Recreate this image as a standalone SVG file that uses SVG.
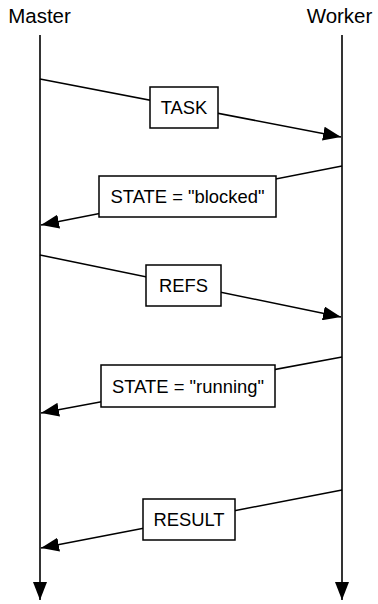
<svg xmlns="http://www.w3.org/2000/svg" width="378" height="604" viewBox="0 0 378 604">
<style>
.life{stroke:#000;stroke-width:1.6;fill:none}
.msg{stroke:#000;stroke-width:1.5;fill:none}
.box{fill:#fff;stroke:#000;stroke-width:1.5}
.hdr{font-family:"Liberation Sans",Arial,sans-serif;font-size:20.5px;fill:#000;text-anchor:middle}
.lbl{font-family:"Liberation Sans",Arial,sans-serif;font-size:18.4px;fill:#000;text-anchor:middle}
</style>
<defs>
<marker id="ah" markerUnits="userSpaceOnUse" markerWidth="19" markerHeight="14" refX="18" refY="7" orient="auto">
<path d="M0,0 L18,7 L0,14 z" fill="#000"/>
</marker>
</defs>
<rect width="378" height="604" fill="#fff"/>
<g id="master">
<text class="hdr" x="39.5" y="23">Master</text>
</g>
<g id="worker">
<text class="hdr" x="339.5" y="23">Worker</text>
</g>
<g id="connectors">
<line class="life" x1="40" y1="35" x2="40" y2="600" marker-end="url(#ah)"/>
<line class="life" x1="342" y1="35" x2="342" y2="600" marker-end="url(#ah)"/>
<line class="msg" x1="40" y1="79" x2="341" y2="137" marker-end="url(#ah)"/>
<line class="msg" x1="342" y1="166" x2="41" y2="225" marker-end="url(#ah)"/>
<line class="msg" x1="40" y1="255" x2="341" y2="317" marker-end="url(#ah)"/>
<line class="msg" x1="342" y1="357" x2="41" y2="413" marker-end="url(#ah)"/>
<line class="msg" x1="342" y1="490" x2="41" y2="548" marker-end="url(#ah)"/>
</g>
<g id="task">
<rect class="box" x="150" y="87" width="68" height="41"/>
<text class="lbl" x="184" y="114">TASK</text>
</g>
<g id="state-blocked">
<rect class="box" x="99" y="176" width="177" height="41"/>
<text class="lbl" x="187.5" y="203">STATE = "blocked"</text>
</g>
<g id="refs">
<rect class="box" x="146" y="265" width="75" height="41"/>
<text class="lbl" x="183.5" y="292">REFS</text>
</g>
<g id="state-running">
<rect class="box" x="101" y="365" width="174" height="42"/>
<text class="lbl" x="188" y="392.5">STATE = "running"</text>
</g>
<g id="result">
<rect class="box" x="143" y="499" width="92" height="41"/>
<text class="lbl" x="189" y="526">RESULT</text>
</g>
</svg>
